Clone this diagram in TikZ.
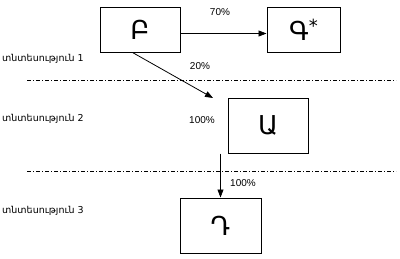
\documentclass[tikz,border=0pt]{standalone}
\usepackage{fontspec}
\setmainfont{Liberation Sans}
\newfontfamily\armfont{DejaVu Sans}
\usetikzlibrary{arrows.meta,calc}
\begin{document}
\begin{tikzpicture}[x=1pt,y=-1pt,
  box/.style={draw=black,line width=1pt,inner sep=0pt,font=\armfont\fontsize{26}{28}\selectfont},
  pct/.style={inner sep=0pt,font=\fontsize{10}{11}\selectfont},
  row/.style={inner sep=0pt,anchor=west,font=\armfont\fontsize{9.5}{11}\selectfont},
  sep/.style={line width=0.9pt,dash pattern=on 4pt off 2pt on 1pt off 2pt},
  arr/.style={line width=0.8pt,-{Triangle[length=8pt,width=6pt]}}]
\useasboundingbox (0,0) rectangle (400,258);
\node[box,minimum width=80pt,minimum height=45pt] (b) at (140,29.5) {Բ};
\node[box,minimum width=73pt,minimum height=45pt] (g) at (303.5,29.5) {Գ\raisebox{0.3em}{\fontsize{18}{18}\selectfont*}};
\node[box,minimum width=80pt,minimum height=55pt] (a) at (268,125.5) {Ա};
\node[box,minimum width=81pt,minimum height=55pt] (d) at (220.5,225.5) {Դ};
\node[row] (r1) at (2,59) {տնտեսություն 1};
\node[row] (r2) at (2,119) {տնտեսություն 2};
\node[row] (r3) at (2,211) {տնտեսություն 3};
\node[pct] (p70) at (220,12) {70\%};
\node[pct] (p20) at (200,66) {20\%};
\node[pct] (p100a) at (202,120) {100\%};
\node[pct] (p100b) at (243,183) {100\%};
\coordinate (l1a) at (27,80); \coordinate (l1b) at (396,80);
\coordinate (l2a) at (27,171); \coordinate (l2b) at (396,171);
\draw[sep] (l1a) -- (l1b);
\draw[sep] (l2a) -- (l2b);
\coordinate (tip20) at (213,98);
\draw[arr] ([yshift=-4pt]b.east) -- ([yshift=-4pt]g.west);
\draw[arr] ([xshift=33pt]b.south west) -- (tip20);
\draw[arr] (d.north |- a.south) -- (d.north);
\end{tikzpicture}
\end{document}
